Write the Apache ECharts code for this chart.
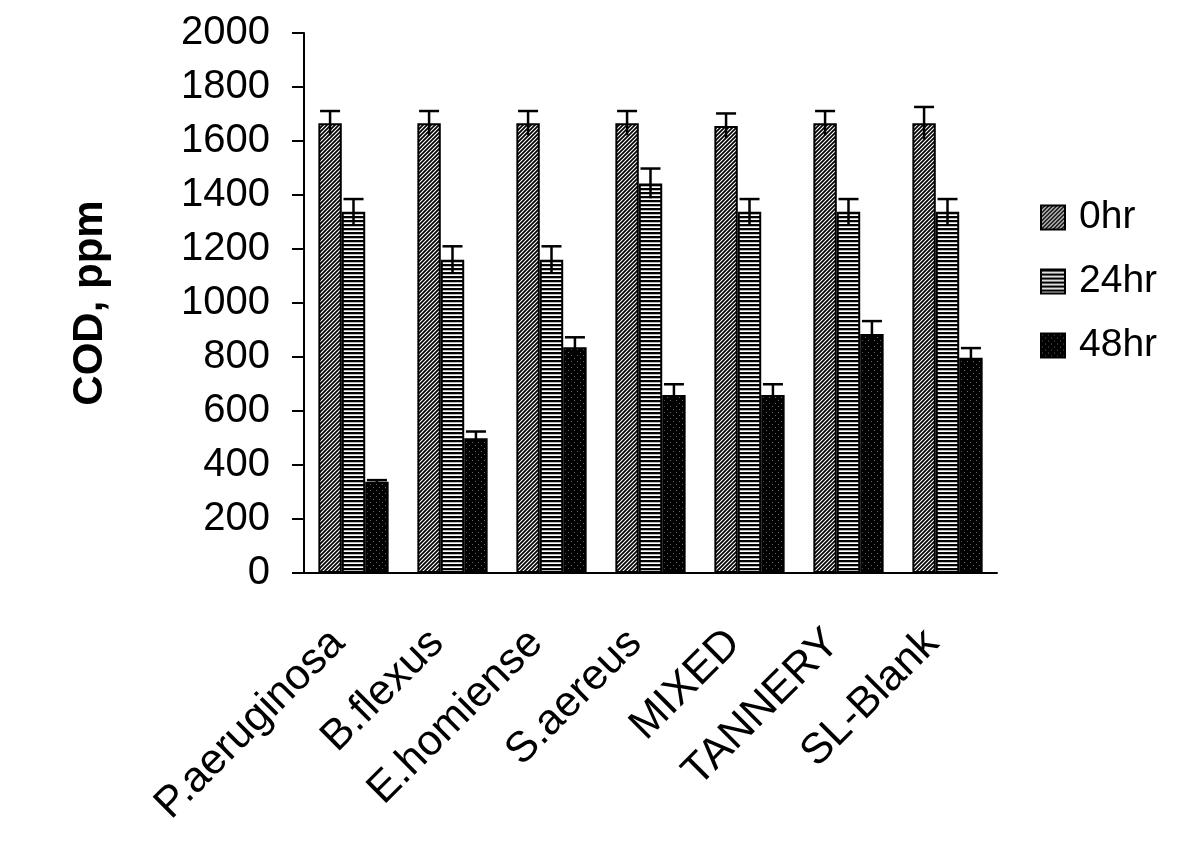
<!DOCTYPE html>
<html>
<head>
<meta charset="utf-8">
<script src="https://cdn.jsdelivr.net/npm/echarts@6.0.0/dist/echarts.min.js"></script>
<style>
html, body { margin: 0; background: #fff; }
#grafico { width: 1200px; height: 853px; }
</style>
</head>
<body>
<div id="grafico"></div>
<script>
var categorias = ['P.aeruginosa', 'B.flexus', 'E.homiense', 'S.aereus', 'MIXED', 'TANNERY', 'SL-Blank'];
var nomes = ['0hr', '24hr', '48hr'];

var cod_0hr = [1666, 1666, 1666, 1666, 1656, 1666, 1666];
var erro_0hr = [45, 45, 45, 45, 46, 45, 60];

var cod_24hr = [1338, 1160, 1160, 1443, 1338, 1338, 1338];
var erro_24hr = [47, 50, 50, 55, 47, 47, 47];

var cod_48hr = [338, 499, 836, 659, 659, 885, 797];
var erro_48hr = [6, 25, 37, 40, 40, 48, 36];

var fonte = '"Liberation Sans", Arial, Helvetica, sans-serif';
var gapCategoria = 0.29;

// padroes de preenchimento (hachuras)
function padraoDiagonal() {
    var c = document.createElement('canvas');
    c.width = 4; c.height = 4;
    var ctx = c.getContext('2d');
    ctx.fillStyle = '#fff';
    ctx.fillRect(0, 0, 4, 4);
    ctx.strokeStyle = '#000';
    ctx.lineWidth = 1.7;
    ctx.beginPath();
    ctx.moveTo(0, 4); ctx.lineTo(4, 0);
    ctx.moveTo(-1, 1); ctx.lineTo(1, -1);
    ctx.moveTo(3, 5); ctx.lineTo(5, 3);
    ctx.stroke();
    return { image: c, repeat: 'repeat' };
}

function padraoHorizontal() {
    var c = document.createElement('canvas');
    c.width = 4; c.height = 4;
    var ctx = c.getContext('2d');
    ctx.fillStyle = '#000';
    ctx.fillRect(0, 0, 4, 2);
    ctx.fillStyle = '#bbb';
    ctx.fillRect(0, 2, 4, 1);
    ctx.fillStyle = '#fff';
    ctx.fillRect(0, 3, 4, 1);
    return { image: c, repeat: 'repeat' };
}

function padraoPontos() {
    var c = document.createElement('canvas');
    c.width = 6; c.height = 6;
    var ctx = c.getContext('2d');
    ctx.fillStyle = '#000';
    ctx.fillRect(0, 0, 6, 6);
    ctx.fillStyle = '#666';
    ctx.fillRect(1, 1, 1, 1);
    ctx.fillRect(4, 4, 1, 1);
    return { image: c, repeat: 'repeat' };
}

function serieBarra(k, valores, cor) {
    return {
        name: nomes[k],
        type: 'bar',
        barGap: 0,
        barCategoryGap: (gapCategoria * 100) + '%',
        itemStyle: { color: cor, borderColor: '#000', borderWidth: 2 },
        emphasis: { disabled: true },
        data: valores
    };
}

function serieErro(k, valores, erros) {
    return {
        type: 'custom',
        z: 10,
        silent: true,
        encode: { x: 0, y: 1 },
        data: valores.map(function (v, i) { return [i, v, erros[i]]; }),
        renderItem: function (params, api) {
            var i = api.value(0);
            var topo = api.coord([i, api.value(1) + api.value(2)]);
            var base = api.coord([i, api.value(1) - api.value(2)]);
            var larguraBarra = api.size([1, 0])[0] * (1 - gapCategoria) / 3;
            var x = topo[0] + (k - 1) * larguraBarra;
            var estilo = { stroke: '#000', lineWidth: 2.5 };
            return {
                type: 'group',
                children: [
                    { type: 'line', shape: { x1: x, y1: topo[1], x2: x, y2: base[1] }, style: estilo },
                    { type: 'line', shape: { x1: x - 10, y1: topo[1], x2: x + 10, y2: topo[1] }, style: estilo }
                ]
            };
        }
    };
}

var myChart = echarts.init(document.getElementById('grafico'));

var option = {
    animation: false,
    backgroundColor: '#fff',
    grid: { left: 304, right: 203, top: 33, bottom: 280, outerBoundsMode: 'none' },
    legend: {
        data: nomes,
        orient: 'vertical',
        left: 1035,
        top: 193,
        itemWidth: 24,
        itemHeight: 24,
        itemGap: 25,
        icon: 'rect',
        textStyle: { fontFamily: fonte, fontSize: 39, color: '#000', padding: [0, 0, 0, 9] }
    },
    xAxis: {
        type: 'category',
        data: categorias,
        axisLine: { lineStyle: { color: '#000', width: 2 } },
        axisTick: { length: 13, lineStyle: { color: '#000', width: 2 } },
        axisLabel: { rotate: 45, margin: 48, padding: [0, 22, 0, 0], fontFamily: fonte, fontSize: 43, color: '#000' }
    },
    yAxis: {
        type: 'value',
        min: 0,
        max: 2000,
        interval: 200,
        name: 'COD, ppm',
        nameLocation: 'middle',
        nameRotate: 90,
        nameGap: 193,
        nameTextStyle: { fontFamily: fonte, fontSize: 42, fontWeight: 'bold', color: '#000' },
        splitLine: { show: false },
        axisLine: { show: true, lineStyle: { color: '#000', width: 2 } },
        axisTick: { show: true, length: 12, lineStyle: { color: '#000', width: 2 } },
        axisLabel: {
            margin: 34, fontFamily: fonte, fontSize: 40, color: '#000',
            formatter: function (v) { return String(v); }
        }
    },
    series: [
        serieBarra(0, cod_0hr, padraoDiagonal()),
        serieBarra(1, cod_24hr, padraoHorizontal()),
        serieBarra(2, cod_48hr, padraoPontos()),
        serieErro(0, cod_0hr, erro_0hr),
        serieErro(1, cod_24hr, erro_24hr),
        serieErro(2, cod_48hr, erro_48hr)
    ]
};

myChart.setOption(option);
</script>
</body>
</html>
